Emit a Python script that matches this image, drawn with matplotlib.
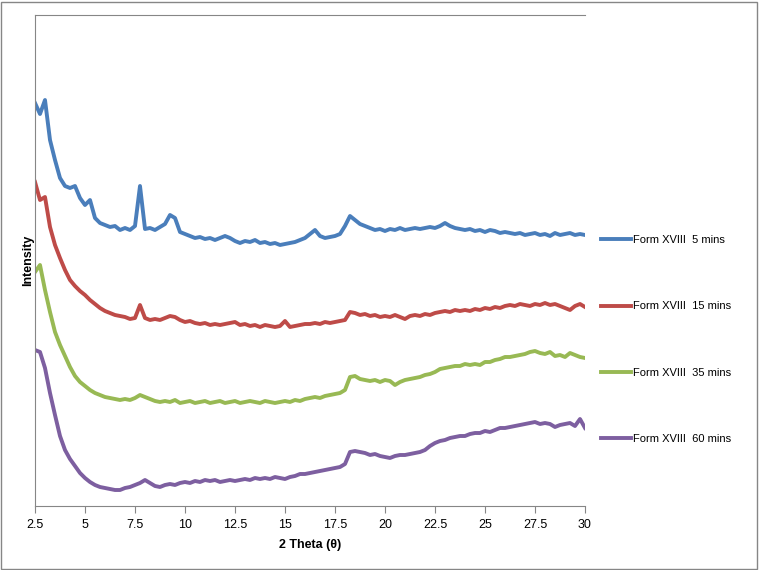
import numpy as np
import matplotlib
matplotlib.use("Agg")
import matplotlib.pyplot as plt
from matplotlib.patches import Rectangle

plt.rcParams.update({
    "font.family": "Liberation Sans", "font.size": 9,
    "text.color": "#000000", "xtick.color": "#000000",
})

# 2-theta grid: 2.5 .. 30 deg, 0.25 deg steps
two_theta = np.linspace(2.5, 30.0, 111)

labels = ["Form XVIII  5 mins", "Form XVIII  15 mins",
          "Form XVIII  35 mins", "Form XVIII  60 mins"]
colors = ["#4A7EBB", "#BE4B48", "#98B954", "#7D5FA0"]

# intensity (arbitrary units, offset traces as in the original)
i_5min = [403, 392, 406, 366, 346, 328, 320, 318, 320, 308,
          301, 306, 288, 283, 281, 279, 280, 276, 278, 276,
          280, 320, 277, 278, 276, 279, 282, 291, 288, 274,
          272, 270, 268, 269, 267, 268, 266, 268, 270, 268,
          265, 263, 265, 264, 266, 263, 264, 262, 263, 261,
          262, 263, 264, 266, 268, 272, 276, 270, 268, 269,
          270, 272, 280, 290, 286, 282, 280, 278, 276, 277,
          275, 277, 276, 278, 276, 277, 278, 277, 278, 279,
          278, 280, 283, 280, 278, 277, 276, 277, 275, 276,
          274, 276, 275, 273, 274, 273, 272, 273, 271, 272,
          273, 271, 272, 270, 273, 271, 272, 273, 271, 272,
          271]
i_15min = [324, 306, 309, 279, 261, 248, 236, 226, 220, 215,
           211, 206, 202, 198, 195, 193, 191, 190, 189, 187,
           188, 201, 188, 186, 187, 186, 188, 190, 189, 186,
           184, 185, 183, 182, 183, 181, 182, 181, 182, 183,
           184, 181, 182, 180, 181, 179, 181, 180, 179, 180,
           185, 179, 180, 181, 182, 182, 183, 182, 184, 183,
           184, 185, 186, 194, 193, 191, 192, 190, 191, 189,
           190, 189, 191, 189, 187, 190, 191, 190, 192, 191,
           193, 194, 195, 194, 196, 195, 196, 195, 197, 196,
           198, 197, 199, 198, 200, 201, 200, 202, 201, 200,
           202, 201, 203, 201, 202, 200, 198, 196, 200, 202,
           199]
i_35min = [234, 241, 216, 194, 174, 161, 150, 139, 130, 124,
           120, 116, 113, 111, 109, 108, 107, 106, 107, 106,
           108, 111, 109, 107, 105, 104, 105, 104, 106, 103,
           104, 105, 103, 104, 105, 103, 104, 105, 103, 104,
           105, 103, 104, 105, 104, 103, 105, 104, 103, 104,
           105, 104, 106, 105, 107, 108, 109, 108, 110, 111,
           112, 113, 116, 129, 130, 127, 126, 125, 126, 124,
           126, 125, 121, 124, 126, 127, 128, 129, 131, 132,
           134, 137, 138, 139, 140, 140, 142, 141, 142, 141,
           144, 144, 146, 147, 149, 149, 150, 151, 152, 154,
           155, 153, 152, 154, 150, 151, 149, 153, 151, 149,
           148]
i_60min = [156, 154, 138, 113, 91, 70, 56, 47, 40, 33,
           28, 24, 21, 19, 18, 17, 16, 16, 18, 19,
           21, 23, 26, 23, 20, 19, 21, 22, 21, 23,
           24, 23, 25, 24, 26, 25, 26, 24, 25, 26,
           25, 26, 27, 26, 28, 27, 28, 27, 29, 28,
           27, 29, 30, 32, 32, 33, 34, 35, 36, 37,
           38, 39, 42, 54, 55, 54, 53, 51, 52, 50,
           49, 48, 50, 51, 51, 52, 53, 54, 56, 60,
           63, 65, 66, 68, 69, 70, 70, 72, 73, 73,
           75, 74, 76, 78, 78, 79, 80, 81, 82, 83,
           84, 82, 83, 82, 79, 81, 82, 83, 80, 87,
           78]

series = [i_5min, i_15min, i_35min, i_60min]
x_ticks = [2.5, 5, 7.5, 10, 12.5, 15, 17.5, 20, 22.5, 25, 27.5, 30]

fig = plt.figure(figsize=(7.59, 5.70), dpi=100)
ax = fig.add_axes([35 / 759, 1 - 506 / 570, 550 / 759, 491 / 570])

for y, c, lab in zip(series, colors, labels):
    ax.plot(two_theta, y, color=c, lw=2.8, label=lab, solid_joinstyle="round")

ax.set_xlim(2.5, 30)
ax.set_ylim(0, 491)
ax.set_xticks(x_ticks)
ax.set_xticklabels([f"{t:g}" for t in x_ticks])
ax.set_yticks([])
ax.tick_params(axis="x", direction="out", length=5, color="#868686", pad=4)
for s in ["left", "bottom", "top"]:
    ax.spines[s].set_color("#868686")
ax.spines["right"].set_visible(False)
ax.set_xlabel("2 Theta (θ)", fontweight="bold", labelpad=6)
ax.set_ylabel("Intensity", fontweight="bold", labelpad=0.5)

ax.legend(loc="center left", bbox_to_anchor=(601 / 759, 1 - 339.5 / 570),
          bbox_transform=fig.transFigure, frameon=False, fontsize=8,
          handlelength=2.7, handletextpad=0.15, labelspacing=5.05,
          borderpad=0, borderaxespad=0)

fig.patches.append(Rectangle((1 / 759, 1 / 570), 756 / 759, 567 / 570,
                             transform=fig.transFigure, fill=False,
                             edgecolor="#868686", lw=1))

fig.savefig("out.png", dpi=100)
